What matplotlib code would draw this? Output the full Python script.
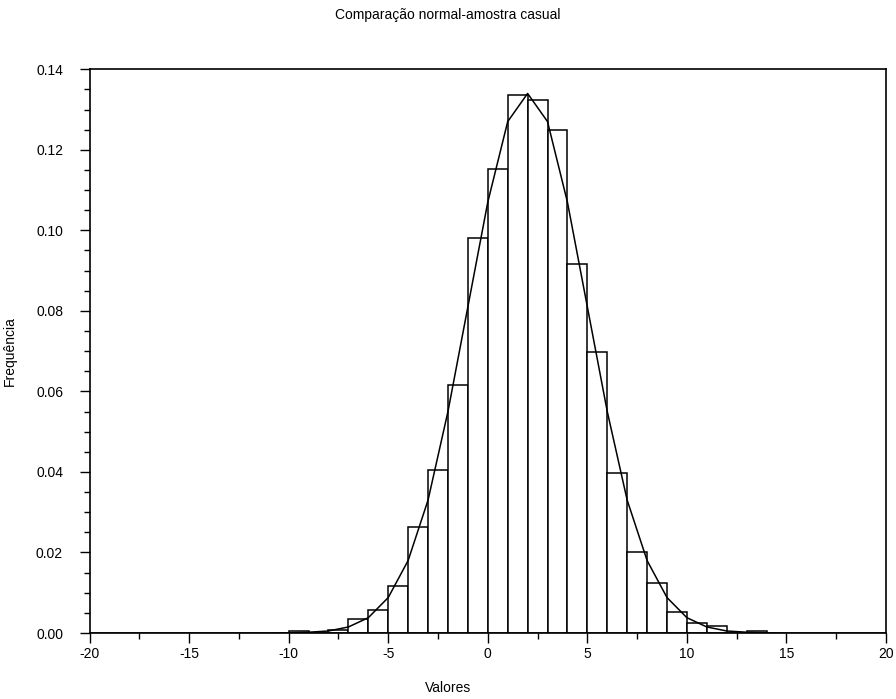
import matplotlib
matplotlib.use("Agg")
import matplotlib.pyplot as plt
from matplotlib.ticker import MultipleLocator

plt.rcParams['font.family'] = ['Liberation Sans', 'DejaVu Sans']
plt.rcParams['axes.unicode_minus'] = False

# Histogram: left edges of unit-width bins and relative frequencies
bin_left = [-10, -9, -8, -7, -6, -5, -4, -3, -2, -1, 0, 1,
            2, 3, 4, 5, 6, 7, 8, 9, 10, 11, 12, 13]
freq = [0.0004, 0.0, 0.0008, 0.0035, 0.0056, 0.0117, 0.0264, 0.0405,
        0.0616, 0.0982, 0.1152, 0.1335, 0.1323, 0.1250, 0.0916, 0.0698,
        0.0398, 0.0202, 0.0125, 0.0053, 0.0026, 0.0017, 0.0, 0.0005]

# Normal curve sampled at integer points
curve_x = list(range(-20, 21))
curve_y = [0.0, 0.0, 0.0, 0.0, 0.0, 0.0, 0.0, 0.0, 0.0, 0.0,
           0.00005, 0.0002, 0.0005, 0.0015, 0.0038, 0.0088, 0.018, 0.033,
           0.055, 0.081, 0.107, 0.127, 0.134, 0.127, 0.107, 0.081, 0.055,
           0.033, 0.018, 0.0088, 0.0038, 0.0015, 0.0005, 0.0002, 0.00005,
           0.0, 0.0, 0.0, 0.0, 0.0, 0.0]

x_ticks = [-20, -15, -10, -5, 0, 5, 10, 15, 20]
y_ticks = [0.00, 0.02, 0.04, 0.06, 0.08, 0.10, 0.12, 0.14]

fig = plt.figure(figsize=(8.96, 6.99), dpi=100)
ax = fig.add_axes([0.0999, 0.0944, 0.889, 0.8065])

ax.bar(bin_left, freq, width=1.0, align='edge', facecolor='white',
       edgecolor='black', linewidth=1.1, zorder=2)
ax.plot(curve_x, curve_y, color='black', linewidth=1.1, zorder=3)

ax.set_xlim(-20, 20)
ax.set_ylim(0, 0.14)
ax.set_xticks(x_ticks)
ax.set_xticklabels([str(v) for v in x_ticks])
ax.set_yticks(y_ticks)
ax.set_yticklabels([f"{v:.2f}" for v in y_ticks])
ax.xaxis.set_minor_locator(MultipleLocator(2.5))
ax.yaxis.set_minor_locator(MultipleLocator(0.005))

ax.tick_params(axis='both', which='major', direction='out', length=7,
               width=1.0, labelsize=10, colors='black')
ax.tick_params(axis='both', which='minor', direction='out', length=4.3,
               width=1.0)
ax.tick_params(axis='x', pad=3)
ax.tick_params(axis='y', pad=12)
for s in ax.spines.values():
    s.set_linewidth(1.2)

fig.text(0.5, 1 - 15 / 699, "Comparação normal-amostra casual",
         fontsize=10, ha='center', va='center')
fig.text(0.5, 1 - 688 / 699, "Valores", fontsize=10, ha='center', va='center')
ax.set_ylabel("Frequência", fontsize=10)
ax.yaxis.set_label_coords(-0.091, 0.5)

fig.savefig("out.png", dpi=100)
